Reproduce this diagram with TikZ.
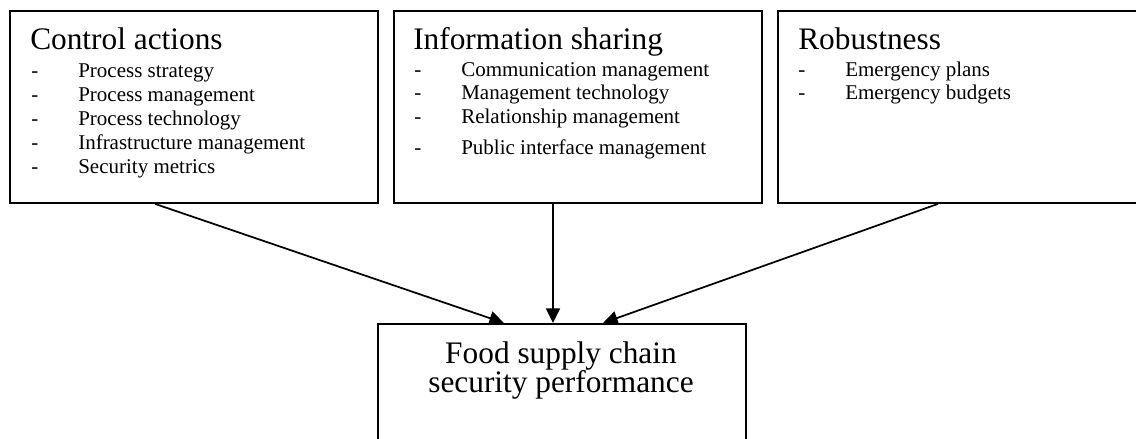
\documentclass[tikz,border=0pt]{standalone}
\usepackage{fontspec}
\setmainfont{Liberation Serif}
\usetikzlibrary{arrows.meta,calc}

% dash bullet followed by a tab stop
\newcommand{\dashitem}[1]{\makebox[35.25pt][l]{-}#1}

\begin{document}
\begin{tikzpicture}[x=0.75pt, y=-0.75pt,
  box/.style={draw, line width=1.4pt, minimum width=276pt, minimum height=144pt, inner sep=0pt, anchor=north west},
  head/.style={font=\fontsize{23.5}{28}\selectfont, inner sep=0pt, anchor=base west},
  item/.style={font=\fontsize{15.75}{18}\selectfont, inner sep=0pt, anchor=base west},
  perftext/.style={font=\fontsize{23.5}{28}\selectfont, inner sep=0pt, anchor=base},
  link/.style={line width=1.3pt, -{Triangle[length=11pt, width=10.5pt]}}]
  \useasboundingbox (0,0) rectangle (1136,439);
  \clip (0,0) rectangle (1136,439);

  % the three driver boxes
  \node[box] (ctrl) at (9,10) {};
  \node[box] (info) at (393,10) {};
  \node[box] (robust) at (777,10) {};

  \node[head] (ctrlhead) at (30,50) {Control actions};
  \foreach \txt [count=\i] in {Process strategy, Process management, Process technology, Infrastructure management, Security metrics}
    \node[item] (ctrl\i) at (31,53+24*\i) {\dashitem{\txt}};

  \node[head] (infohead) at (413,50) {Information sharing};
  \node[item] (info1) at (414,76) {\dashitem{Communication management}};
  \node[item] (info2) at (414,99.5) {\dashitem{Management technology}};
  \node[item] (info3) at (414,123) {\dashitem{Relationship management}};
  \node[item] (info4) at (414,154) {\dashitem{Public interface management}};

  \node[head] (robusthead) at (798,50) {Robustness};
  \node[item] (robust1) at (798,76) {\dashitem{Emergency plans}};
  \node[item] (robust2) at (798,99) {\dashitem{Emergency budgets}};

  % outcome box
  \node[box] (perf) at (377,323) {};
  \node[perftext] (perf1) at (561,363) {Food supply chain};
  \node[perftext] (perf2) at (561,392) {security performance};

  \draw[link] ($(ctrl.south west)+(146,0)$) -- ($(perf.north west)+(127,0)$);
  \draw[link] ($(info.south west)+(160,0)$) -- ($(perf.north west)+(176,0)$);
  \draw[link] ($(robust.south west)+(161,0)$) -- ($(perf.north west)+(226,0)$);
\end{tikzpicture}
\end{document}
